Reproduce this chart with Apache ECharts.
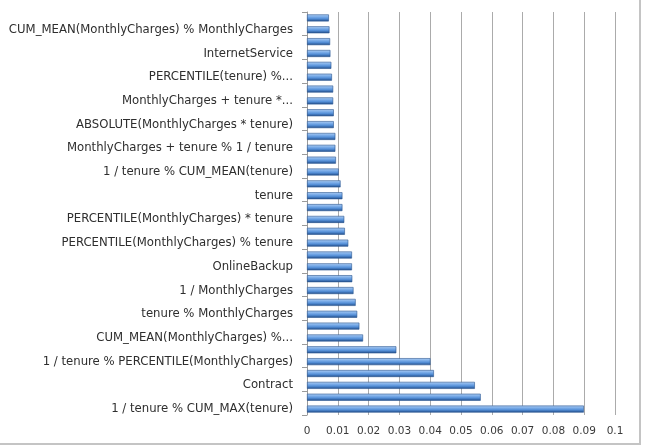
<html lang="en">

<head>
  <meta charset="utf-8">
  <title>Feature importance</title>
  <script src="https://cdn.jsdelivr.net/npm/echarts@6/dist/echarts.min.js"></script>
  <style>
    html, body { margin: 0; padding: 0; background: #fff; }
    #chart { width: 647px; height: 447px; }
  </style>
</head>

<body>
  <div id="chart"></div>
</body>

<script>

  // categories from bottom to top (only every other one gets a label)
  var features = [
    '1 / tenure % CUM_MAX(tenure)',
    'MonthlyCharges % CUM_MAX(tenure)',
    'Contract',
    'tenure * CUM_MAX(tenure)',
    '1 / tenure % PERCENTILE(MonthlyCharges)',
    'PaymentMethod',
    'CUM_MEAN(MonthlyCharges) %...',
    'TechSupport',
    'tenure % MonthlyCharges',
    'OnlineSecurity',
    '1 / MonthlyCharges',
    'PERCENTILE(tenure)',
    'OnlineBackup',
    'MonthlyCharges * tenure',
    'PERCENTILE(MonthlyCharges) % tenure',
    'PaperlessBilling',
    'PERCENTILE(MonthlyCharges) * tenure',
    'TotalCharges',
    'tenure',
    'DeviceProtection',
    '1 / tenure % CUM_MEAN(tenure)',
    'StreamingMovies',
    'MonthlyCharges + tenure % 1 / tenure',
    'StreamingTV',
    'ABSOLUTE(MonthlyCharges * tenure)',
    'MultipleLines',
    'MonthlyCharges + tenure *...',
    'Dependents',
    'PERCENTILE(tenure) %...',
    'Partner',
    'InternetService',
    'SeniorCitizen',
    'CUM_MEAN(MonthlyCharges) % MonthlyCharges',
    'gender'
  ];

  var importance = [
    0.0899, 0.0564, 0.0545, 0.0412, 0.0401, 0.0290, 0.0182, 0.0170, 0.0163,
    0.0158, 0.0151, 0.0147, 0.0146, 0.0146, 0.0134, 0.0123, 0.0121, 0.0115,
    0.0115, 0.0109, 0.0103, 0.0094, 0.0092, 0.0092, 0.0087, 0.0087, 0.0085,
    0.0085, 0.0081, 0.0079, 0.0076, 0.0075, 0.0073, 0.0071
  ];

  var plot = echarts.init(document.getElementById('chart'), null, { renderer: 'canvas' });

  var barColor = new echarts.graphic.LinearGradient(0, 0, 0, 1, [
    { offset: 0, color: '#b3d0f3' },
    { offset: 0.3, color: '#80b0ea' },
    { offset: 0.6, color: '#5590d8' },
    { offset: 1, color: '#1f4a86' }
  ]);

  option = {
    animation: false,
    textStyle: { fontFamily: 'DejaVu Sans' },
    graphic: [{
      type: 'polyline',
      shape: { points: [[640, 0], [640, 444], [0, 444]] },
      style: { stroke: '#c4c4c4', lineWidth: 2, fill: null }
    }],
    grid: {
      left: 307,
      right: 32,
      top: 12,
      bottom: 32
    },
    xAxis: {
      type: 'value',
      min: 0,
      max: 0.1,
      interval: 0.01,
      axisLine: { show: false },
      axisTick: { show: false },
      axisLabel: {
        color: '#3a3a3a',
        fontSize: 10.5,
        margin: 11
      },
      splitLine: {
        show: true,
        lineStyle: { color: '#ababab', width: 1 }
      }
    },
    yAxis: {
      type: 'category',
      data: features,
      axisLine: { show: true, lineStyle: { color: '#9a9a9a', width: 1 } },
      axisTick: {
        show: true,
        interval: 1,
        length: 5,
        lineStyle: { color: '#9a9a9a' }
      },
      axisLabel: {
        interval: 1,
        color: '#2e2e2e',
        fontSize: 11.7,
        margin: 14
      }
    },
    series: [{
      type: 'bar',
      data: importance,
      barWidth: 7,
      itemStyle: {
        color: barColor,
        borderColor: '#2a5590',
        borderWidth: 0.6
      }
    }]
  };
  plot.setOption(option = option)

</script>

</html>
